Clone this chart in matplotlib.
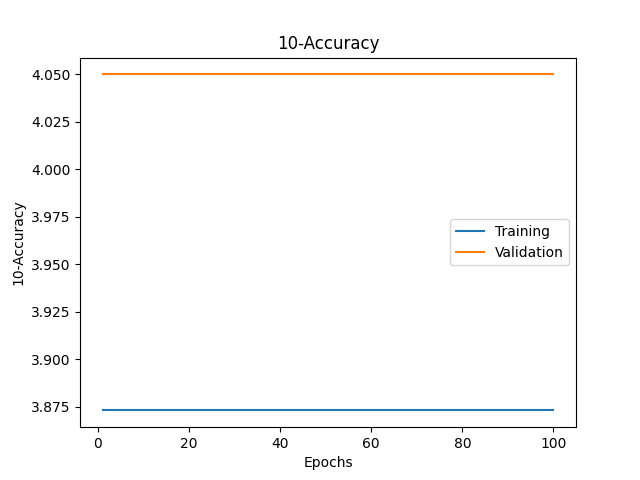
import matplotlib
matplotlib.use("Agg")
import matplotlib.pyplot as plt

epochs = list(range(1, 101))
training = [3.873] * 100
validation = [4.05] * 100

fig, ax = plt.subplots(figsize=(6.4, 4.8), dpi=100)
ax.plot(epochs, training, label="Training")
ax.plot(epochs, validation, label="Validation")
ax.set_title("10-Accuracy")
ax.set_xlabel("Epochs")
ax.set_ylabel("10-Accuracy")
ax.legend(loc="center right")
fig.savefig("out.png")
